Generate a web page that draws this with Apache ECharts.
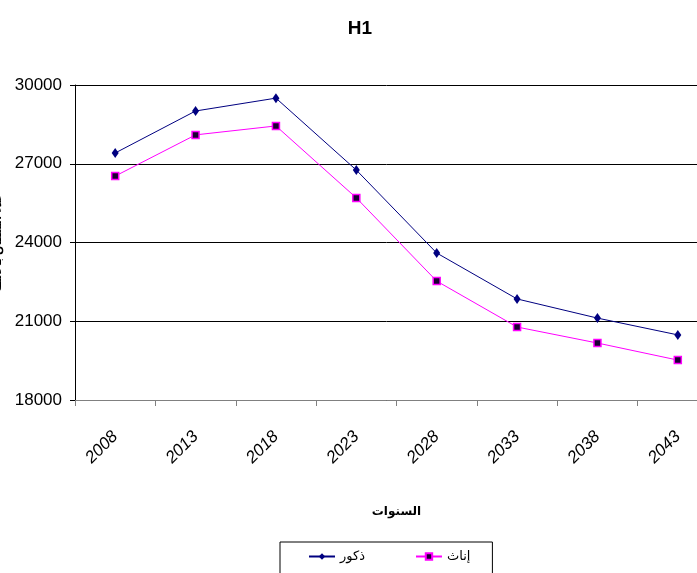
<!DOCTYPE html>
<html>
<head>
<meta charset="utf-8">
<script src="https://cdn.jsdelivr.net/npm/echarts@6/dist/echarts.min.js"></script>
<style>
  html, body { margin: 0; padding: 0; background: #fff; }
  #chart { width: 697px; height: 573px; }
</style>
</head>
<body>
<div id="chart"></div>
<script>
var years = ['2008', '2013', '2018', '2023', '2028', '2033', '2038', '2043'];
var males = [27410, 29010, 29500, 26760, 23600, 21850, 21120, 20480];
var females = [26530, 28100, 28440, 25700, 22530, 20780, 20170, 19520];
var yTicks = { min: 18000, max: 30000, step: 3000 };

var font = 'Liberation Sans, Arial, DejaVu Sans';
var chart = echarts.init(document.getElementById('chart'));

var option = {
  backgroundColor: '#fff',
  animation: false,
  title: {
    text: 'H1',
    left: 355,
    top: 14,
    textAlign: 'center',
    textStyle: { fontFamily: font, fontSize: 19, fontWeight: 'bold', color: '#000' }
  },
  legend: {
    left: 280,
    top: 542,
    orient: 'horizontal',
    itemWidth: 26,
    itemHeight: 8,
    itemGap: 50,
    padding: [8, 22, 14, 28],
    borderColor: '#000',
    borderWidth: 1,
    textStyle: { fontFamily: font, fontSize: 13, color: '#000' },
    data: ['ذكور', 'إناث']
  },
  grid: { left: 75, top: 85, width: 643, height: 315, containLabel: false, outerBoundsMode: 'none' },
  xAxis: {
    type: 'category',
    data: years,
    boundaryGap: true,
    name: 'السنوات',
    nameLocation: 'middle',
    nameGap: 106,
    nameTextStyle: { fontFamily: font, fontSize: 12, fontWeight: 'bold', color: '#000' },
    axisLine: { lineStyle: { color: '#808080', width: 1 } },
    axisTick: { show: true, length: 6, inside: false, lineStyle: { color: '#808080' } },
    axisLabel: { rotate: 45, margin: 34, fontFamily: font, fontSize: 17, fontStyle: 'italic', color: '#000' },
    splitLine: { show: false }
  },
  yAxis: {
    type: 'value',
    min: yTicks.min,
    max: yTicks.max,
    interval: yTicks.step,
    name: 'عدد السكان بالألف',
    nameLocation: 'middle',
    nameRotate: 90,
    nameGap: 70,
    nameTextStyle: { fontFamily: font, fontSize: 11, fontWeight: 'bold', color: '#000' },
    axisLine: { show: true, lineStyle: { color: '#000', width: 1 } },
    axisTick: { show: true, length: 5, lineStyle: { color: '#000' } },
    axisLabel: {
      margin: 13,
      fontFamily: font,
      fontSize: 17,
      color: '#000',
      formatter: function (v) { return String(v); }
    },
    splitLine: { show: true, lineStyle: { color: '#000', width: 1 } }
  },
  series: [
    {
      name: 'ذكور',
      type: 'line',
      data: males,
      symbol: 'diamond',
      symbolSize: [7, 10],
      lineStyle: { color: '#000080', width: 1 },
      itemStyle: { color: '#000080' }
    },
    {
      name: 'إناث',
      type: 'line',
      data: females,
      symbol: 'rect',
      symbolSize: 7,
      lineStyle: { color: '#FF00FF', width: 1 },
      itemStyle: { color: '#1a0033', borderColor: '#FF00FF', borderWidth: 1.5 }
    }
  ]
};

chart.setOption(option);
</script>
</body>
</html>
